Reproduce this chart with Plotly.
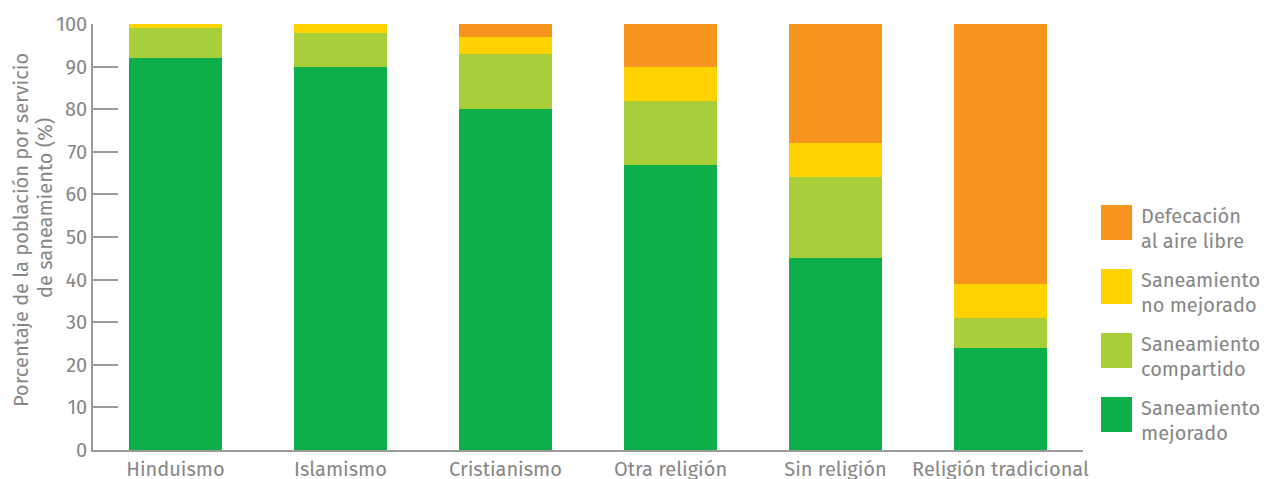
import plotly.graph_objects as go

categories = ["Hinduismo", "Islamismo", "Cristianismo", "Otra religión", "Sin religión", "Religión tradicional"]
mejorado = [92, 90, 80, 67, 45, 24]
compartido = [7, 8, 13, 15, 19, 7]
no_mejorado = [1, 2, 4, 8, 8, 8]
aire_libre = [0, 0, 3, 10, 28, 61]

series_names = [("Saneamiento", "mejorado"), ("Saneamiento", "compartido"),
                ("Saneamiento", "no mejorado"), ("Defecación", "al aire libre")]
series_values = [mejorado, compartido, no_mejorado, aire_libre]
colors = ["#0DAF4B", "#A8CF3A", "#FFD200", "#F7941E"]

y_ticks = [0, 10, 20, 30, 40, 50, 60, 70, 80, 90, 100]
y_title = ("Porcentaje de la población por servicio", "de saneamiento (%)")

FONT = "Fira Sans, Roboto, sans-serif"
GRAY = "#868686"
AXIS = "#9a9a9a"
FS = 20

fig = go.Figure()
for name, vals, col in zip(series_names, series_values, colors):
    fig.add_trace(go.Bar(x=categories, y=vals, name=" ".join(name),
                         marker=dict(color=col, line=dict(width=0)), showlegend=False))

W, H = 1264, 479
L, R, T, B = 93, 181, 24, 29
pw = W - L - R
ph = H - T - B

def px_x(x):
    return (x - L) / pw

def px_y(y):
    return (H - B - y) / ph

shapes = []
annotations = []
legend_tops = [205, 269, 333, 397]
legend_order = [3, 2, 1, 0]
for top, idx in zip(legend_tops, legend_order):
    shapes.append(dict(type="rect", xref="paper", yref="paper",
                       x0=px_x(1101), x1=px_x(1132), y0=px_y(top + 35), y1=px_y(top),
                       fillcolor=colors[idx], line=dict(width=0)))
    for k, off in enumerate((11, 36)):
        annotations.append(dict(xref="paper", yref="paper", x=px_x(1139), y=px_y(top + off),
                                text=series_names[idx][k], showarrow=False, xanchor="left",
                                yanchor="middle", align="left",
                                font=dict(family=FONT, size=FS, color=GRAY)))

for txt, cx, cy in zip(y_title, (21, 45), (230, 208)):
    annotations.append(dict(xref="paper", yref="paper", x=px_x(cx), y=px_y(cy), text=txt,
                            textangle=-90, showarrow=False, xanchor="center", yanchor="middle",
                            font=dict(family=FONT, size=FS, color=GRAY)))

fig.update_layout(
    barmode="stack",
    bargap=0.436,
    width=W, height=H,
    margin=dict(l=L, r=R, t=T, b=B, autoexpand=False),
    paper_bgcolor="white",
    plot_bgcolor="white",
    font=dict(family=FONT, size=FS, color=GRAY),
    shapes=shapes,
    annotations=annotations,
    xaxis=dict(showline=True, linecolor=AXIS, linewidth=1.5, ticks="", showgrid=False, automargin=False,
               tickfont=dict(family=FONT, size=FS, color=GRAY)),
    yaxis=dict(range=[0, 100], tickvals=y_ticks, showline=True, linecolor=AXIS, linewidth=1.5,
               ticks="inside", ticklen=25, tickcolor=AXIS, tickwidth=1.5, showgrid=False, zeroline=False,
               automargin=False, tickfont=dict(family=FONT, size=FS, color=GRAY)),
)

fig.write_html("out.html", config={"displayModeBar": False},
               post_script="document.body.style.margin='0px';")
